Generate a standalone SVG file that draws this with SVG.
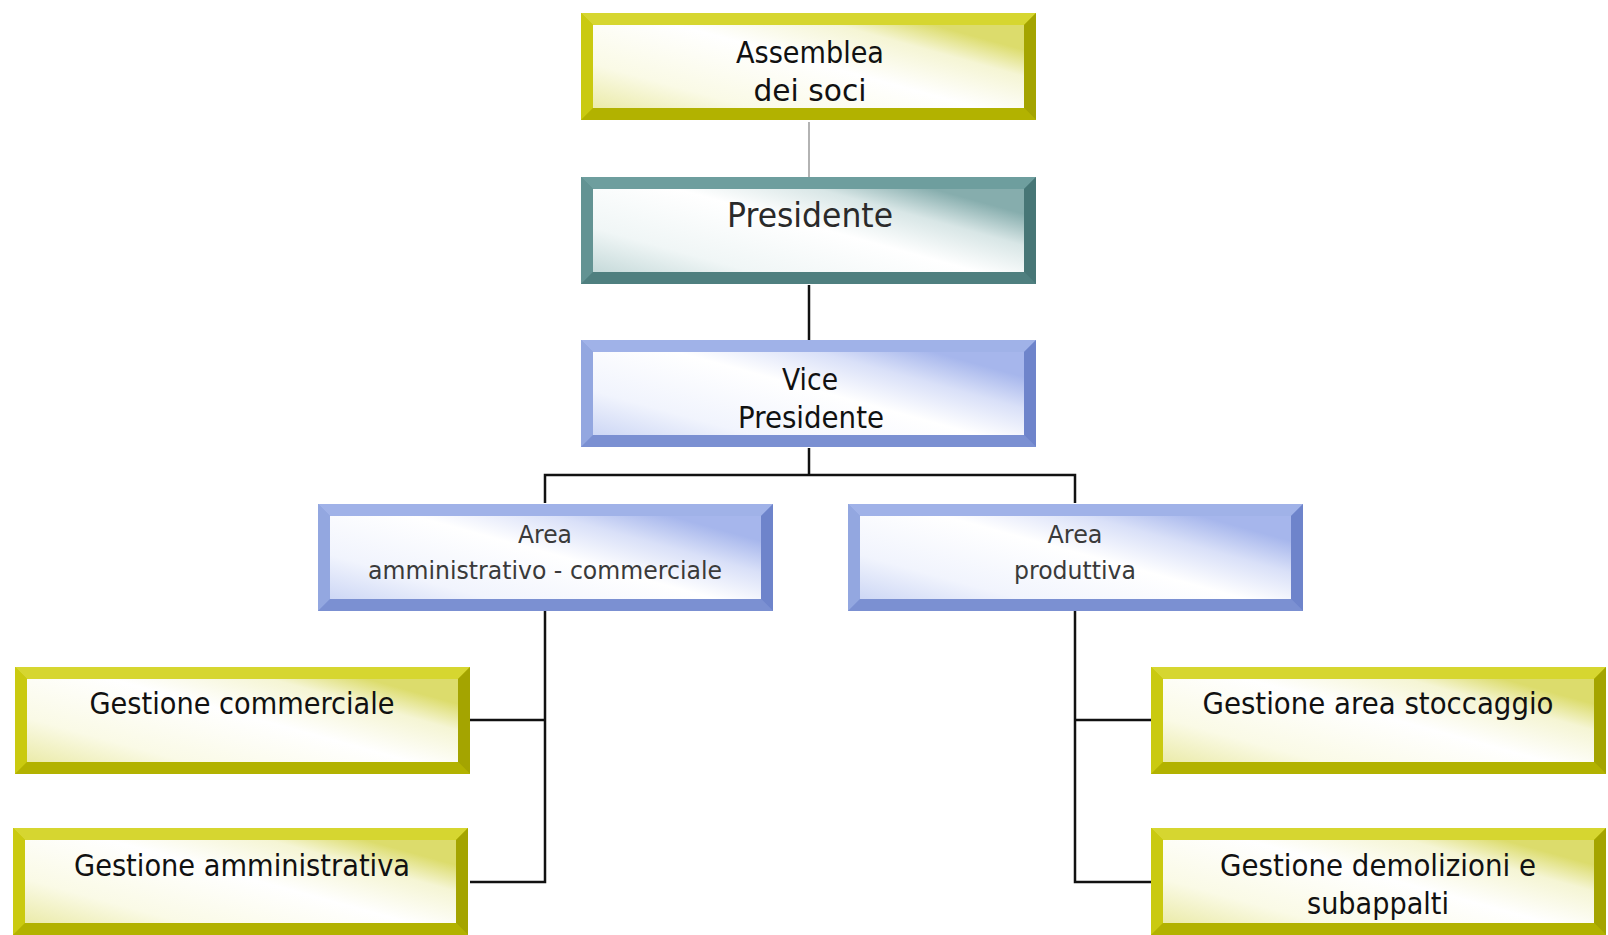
<svg xmlns="http://www.w3.org/2000/svg" width="1608" height="935" viewBox="0 0 1608 935">
<style>
  .t { font-family: "DejaVu Sans", "Liberation Sans", sans-serif; font-size: 30px; fill: #111; text-anchor: middle; }
  .big { font-size: 34px; fill: #2a2a2a; }
  .sm { font-size: 25px; fill: #3a3a3a; }
  .ln { stroke: #111; stroke-width: 2.5; fill: none; }
  .lg { stroke: #9a9a9a; stroke-width: 1.5; fill: none; }
</style>
<defs>
  <linearGradient id="fy" x1="0" y1="1" x2="1" y2="0.3">
    <stop offset="0" stop-color="#ebebaa"/>
    <stop offset="0.25" stop-color="#fafae6"/>
    <stop offset="0.6" stop-color="#ffffff"/>
    <stop offset="0.85" stop-color="#f5f5d4"/>
    <stop offset="1" stop-color="#dcdc6c"/>
  </linearGradient>
  <linearGradient id="ft" x1="0" y1="1" x2="1" y2="0.3">
    <stop offset="0" stop-color="#c6dada"/>
    <stop offset="0.25" stop-color="#f0f6f6"/>
    <stop offset="0.6" stop-color="#ffffff"/>
    <stop offset="0.82" stop-color="#d8e6e6"/>
    <stop offset="1" stop-color="#86adad"/>
  </linearGradient>
  <linearGradient id="fb" x1="0" y1="1" x2="1" y2="0.3">
    <stop offset="0" stop-color="#cdd7f5"/>
    <stop offset="0.25" stop-color="#f1f4fd"/>
    <stop offset="0.6" stop-color="#ffffff"/>
    <stop offset="0.82" stop-color="#d9e0f8"/>
    <stop offset="1" stop-color="#a6b6ec"/>
  </linearGradient>
  <symbol id="by" viewBox="0 0 455 107" width="455" height="107">
    <rect x="0" y="0" width="455" height="107" fill="#c4c400"/>
    <polygon points="0,0 455,0 443,12 12,12" fill="#d6d630"/>
    <polygon points="0,0 12,12 12,95 0,107" fill="#caca10"/>
    <polygon points="0,107 12,95 443,95 455,107" fill="#b2b200"/>
    <polygon points="455,0 455,107 443,95 443,12" fill="#a4a400"/>
    <rect x="12" y="12" width="431" height="83" fill="url(#fy)"/>
  </symbol>
  <symbol id="bt" viewBox="0 0 455 107" width="455" height="107">
    <rect x="0" y="0" width="455" height="107" fill="#5c8c8c"/>
    <polygon points="0,0 455,0 443,12 12,12" fill="#6e9e9e"/>
    <polygon points="0,0 12,12 12,95 0,107" fill="#639393"/>
    <polygon points="0,107 12,95 443,95 455,107" fill="#4f7f7f"/>
    <polygon points="455,0 455,107 443,95 443,12" fill="#477676"/>
    <rect x="12" y="12" width="431" height="83" fill="url(#ft)"/>
  </symbol>
  <symbol id="bb" viewBox="0 0 455 107" width="455" height="107">
    <rect x="0" y="0" width="455" height="107" fill="#8a9fdc"/>
    <polygon points="0,0 455,0 443,12 12,12" fill="#a0b2e8"/>
    <polygon points="0,0 12,12 12,95 0,107" fill="#93a7e0"/>
    <polygon points="0,107 12,95 443,95 455,107" fill="#7b90d2"/>
    <polygon points="455,0 455,107 443,95 443,12" fill="#6e84cb"/>
    <rect x="12" y="12" width="431" height="83" fill="url(#fb)"/>
  </symbol>
</defs>
<rect width="1608" height="935" fill="#ffffff"/>

<g id="connectors">
  <line class="lg" x1="809" y1="122" x2="809" y2="177"/>
  <line class="ln" x1="809" y1="285" x2="809" y2="340"/>
  <line class="ln" x1="809" y1="448" x2="809" y2="475"/>
  <polyline class="ln" points="545,503 545,475 1075,475 1075,503"/>
  <polyline class="ln" points="545,611 545,882 470,882"/>
  <line class="ln" x1="470" y1="720" x2="545" y2="720"/>
  <polyline class="ln" points="1075,611 1075,882 1151,882"/>
  <line class="ln" x1="1075" y1="720" x2="1151" y2="720"/>
</g>

<g id="assemblea">
  <use href="#by" x="581" y="13"/>
  <text class="t" x="810" y="63" textLength="148" lengthAdjust="spacingAndGlyphs">Assemblea</text>
  <text class="t" x="810" y="101" textLength="113" lengthAdjust="spacingAndGlyphs">dei  soci</text>
</g>
<g id="presidente">
  <use href="#bt" x="581" y="177"/>
  <text class="t big" x="810" y="227" textLength="166" lengthAdjust="spacingAndGlyphs">Presidente</text>
</g>
<g id="vicepresidente">
  <use href="#bb" x="581" y="340"/>
  <text class="t" x="810" y="390" textLength="56" lengthAdjust="spacingAndGlyphs">Vice</text>
  <text class="t" x="811" y="428" textLength="146" lengthAdjust="spacingAndGlyphs">Presidente</text>
</g>
<g id="area-amm">
  <use href="#bb" x="318" y="504"/>
  <text class="t sm" x="545" y="543" textLength="54" lengthAdjust="spacingAndGlyphs">Area</text>
  <text class="t sm" x="545" y="579" textLength="354" lengthAdjust="spacingAndGlyphs">amministrativo - commerciale</text>
</g>
<g id="area-prod">
  <use href="#bb" x="848" y="504"/>
  <text class="t sm" x="1075" y="543" textLength="55" lengthAdjust="spacingAndGlyphs">Area</text>
  <text class="t sm" x="1075" y="579" textLength="122" lengthAdjust="spacingAndGlyphs">produttiva</text>
</g>
<g id="gest-comm">
  <use href="#by" x="15" y="667"/>
  <text class="t" x="242" y="714" textLength="305" lengthAdjust="spacingAndGlyphs">Gestione commerciale</text>
</g>
<g id="gest-amm">
  <use href="#by" x="13" y="828"/>
  <text class="t" x="242" y="876" textLength="336" lengthAdjust="spacingAndGlyphs">Gestione amministrativa</text>
</g>
<g id="gest-stocc">
  <use href="#by" x="1151" y="667"/>
  <text class="t" x="1378" y="714" textLength="351" lengthAdjust="spacingAndGlyphs">Gestione area stoccaggio</text>
</g>
<g id="gest-demol">
  <use href="#by" x="1151" y="828"/>
  <text class="t" x="1378" y="876" textLength="316" lengthAdjust="spacingAndGlyphs">Gestione demolizioni e</text>
  <text class="t" x="1378" y="914" textLength="142" lengthAdjust="spacingAndGlyphs">subappalti</text>
</g>
</svg>
